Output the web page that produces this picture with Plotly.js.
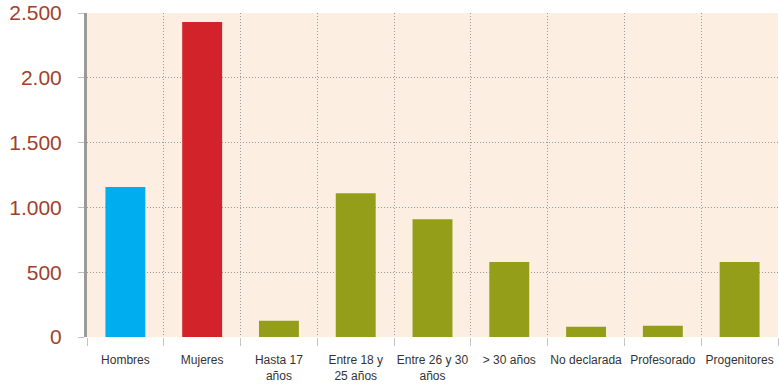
<!DOCTYPE html>
<html>
<head>
<meta charset="utf-8">
<script src="https://cdn.plot.ly/plotly-3.0.1.min.js"></script>
<style>
  html, body { margin: 0; padding: 0; background: #ffffff; }
  #chart { width: 779px; height: 390px; }
</style>
</head>
<body>
<div id="chart"></div>
<script>
// Participantes por grupo
const categories = [
  'Hombres', 'Mujeres', 'Hasta 17<br>años', 'Entre 18 y<br>25 años',
  'Entre 26 y 30<br>años', '> 30 años', 'No declarada', 'Profesorado', 'Progenitores'
];
const values = [1157, 2430, 125, 1110, 908, 578, 79, 87, 578];
const barColors = ['#00aeef', '#d2232a', '#959e18', '#959e18', '#959e18',
                   '#959e18', '#959e18', '#959e18', '#959e18'];

const yTickVals = [0, 500, 1000, 1500, 2000, 2500];
const yTickText = ['0', '500', '1.000', '1.500', '2.00', '2.500'];

const trace = {
  type: 'bar',
  x: categories,
  y: values,
  marker: { color: barColors, line: { width: 0 } },
  width: 0.52,
  hoverinfo: 'x+y'
};

const gridDots = '1px,2px';

const layout = {
  width: 779,
  height: 390,
  margin: { l: 87, r: 1, t: 13, b: 53 },
  paper_bgcolor: '#ffffff',
  plot_bgcolor: '#fcefe2',
  showlegend: false,
  font: { family: 'Liberation Sans, Arial, sans-serif' },
  xaxis: {
    type: 'category',
    tickson: 'boundaries',
    showgrid: true,
    gridcolor: '#9a9a9a',
    griddash: gridDots,
    gridwidth: 1,
    ticks: 'outside',
    ticklen: 8,
    tickcolor: '#c4c4c4',
    tickwidth: 1,
    tickangle: 0,
    showline: false,
    zeroline: false,
    ticklabelstandoff: 14,
    tickfont: { family: 'Liberation Sans, Arial, sans-serif', size: 12, color: '#333333' }
  },
  yaxis: {
    range: [0, 2500],
    tickvals: yTickVals,
    ticktext: yTickText,
    showgrid: true,
    gridcolor: '#9a9a9a',
    griddash: gridDots,
    gridwidth: 1,
    zeroline: false,
    showline: true,
    linecolor: '#9a9a9a',
    linewidth: 3,
    ticks: 'outside',
    ticklen: 6,
    tickcolor: '#c0c0c0',
    ticklabelstandoff: 12,
    tickfont: { family: 'Liberation Sans, Arial, sans-serif', size: 21, color: '#a0412a' }
  }
};

Plotly.newPlot('chart', [trace], layout, { displayModeBar: false, staticPlot: true });
</script>
</body>
</html>
